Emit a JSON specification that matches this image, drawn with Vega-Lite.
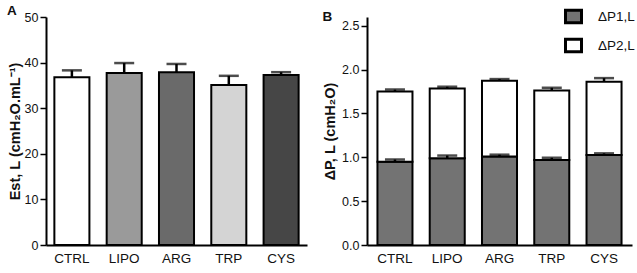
{
  "$schema": "https://vega.github.io/schema/vega-lite/v6.json",
  "background": "white",
  "padding": {"left": 7, "top": 3, "right": 2, "bottom": 2},
  "spacing": 15,
  "resolve": {"scale": {"fill": "independent"}, "legend": {"fill": "independent"}},
  "config": {
    "font": "Liberation Sans",
    "view": {"stroke": null},
    "axis": {
      "domainColor": "black", "domainWidth": 2,
      "tickColor": "black", "tickWidth": 1.5, "tickSize": 6,
      "labelColor": "#111", "labelFont": "Liberation Sans", "labelFontSize": 12.5,
      "titleFont": "Liberation Sans", "titleFontWeight": "bold", "titleFontSize": 14.5, "titleColor": "#111",
      "grid": false
    },
    "title": {"anchor": "start", "frame": "bounds", "fontSize": 13.5, "fontWeight": "bold", "font": "Liberation Sans", "offset": -6, "color": "#111"}
  },
  "hconcat": [
    {
      "width": 261, "height": 228,
      "title": {"text": "A"},
      "data": {"values": [
        {"group": "CTRL", "mean": 36.8, "upper": 38.3},
        {"group": "LIPO", "mean": 37.7, "upper": 39.9},
        {"group": "ARG", "mean": 37.9, "upper": 39.7},
        {"group": "TRP", "mean": 35.1, "upper": 37.1},
        {"group": "CYS", "mean": 37.3, "upper": 37.9}
      ]},
      "encoding": {
        "x": {"field": "group", "type": "nominal", "sort": null,
          "scale": {"paddingInner": 0.33, "paddingOuter": 0.16},
          "axis": {"title": null, "ticks": false, "labelAngle": 0, "labelFontSize": 13.5, "labelPadding": 6}}
      },
      "layer": [
        {"mark": {"type": "bar", "stroke": "black", "strokeWidth": 2},
         "encoding": {
           "y": {"field": "mean", "type": "quantitative", "scale": {"domain": [0, 50]},
             "axis": {"title": "Est, L (cmH₂O.mL⁻¹)", "values": [0, 10, 20, 30, 40, 50], "labelPadding": 2, "titlePadding": 2}},
           "fill": {"field": "group", "type": "nominal", "sort": null,
             "scale": {"domain": ["CTRL", "LIPO", "ARG", "TRP", "CYS"], "range": ["#ffffff", "#9a9a9a", "#6a6a6a", "#d4d4d4", "#464646"]},
             "legend": null}
         }},
        {"mark": {"type": "rule", "color": "black", "strokeWidth": 2.5},
         "encoding": {"y": {"field": "mean", "type": "quantitative"}, "y2": {"field": "upper"}}},
        {"mark": {"type": "tick", "color": "black", "thickness": 2.5, "size": 20},
         "encoding": {"y": {"field": "upper", "type": "quantitative"}}}
      ]
    },
    {
      "width": 265, "height": 228,
      "title": {"text": "B", "offset": -16},
      "data": {"values": [
        {"group": "CTRL", "series": "ΔP1,L", "start": 0, "end": 0.95, "cap": 0.975},
        {"group": "CTRL", "series": "ΔP2,L", "start": 0.95, "end": 1.75, "cap": 1.772},
        {"group": "LIPO", "series": "ΔP1,L", "start": 0, "end": 0.99, "cap": 1.02},
        {"group": "LIPO", "series": "ΔP2,L", "start": 0.99, "end": 1.785, "cap": 1.805},
        {"group": "ARG", "series": "ΔP1,L", "start": 0, "end": 1.01, "cap": 1.03},
        {"group": "ARG", "series": "ΔP2,L", "start": 1.01, "end": 1.872, "cap": 1.892},
        {"group": "TRP", "series": "ΔP1,L", "start": 0, "end": 0.97, "cap": 0.995},
        {"group": "TRP", "series": "ΔP2,L", "start": 0.97, "end": 1.762, "cap": 1.793},
        {"group": "CYS", "series": "ΔP1,L", "start": 0, "end": 1.025, "cap": 1.045},
        {"group": "CYS", "series": "ΔP2,L", "start": 1.025, "end": 1.862, "cap": 1.903}
      ]},
      "encoding": {
        "x": {"field": "group", "type": "nominal", "sort": null,
          "scale": {"paddingInner": 0.33, "paddingOuter": 0.2},
          "axis": {"title": null, "ticks": false, "labelAngle": 0, "labelFontSize": 13.5, "labelPadding": 6}}
      },
      "layer": [
        {"mark": {"type": "bar", "stroke": "black", "strokeWidth": 2},
         "encoding": {
           "y": {"field": "end", "type": "quantitative", "scale": {"domain": [0, 2.5]},
             "axis": {"title": "ΔP, L (cmH₂O)", "values": [0, 0.5, 1, 1.5, 2, 2.5], "format": ".1f", "labelPadding": 2, "titlePadding": 4}},
           "y2": {"field": "start"},
           "fill": {"field": "series", "type": "nominal",
             "scale": {"domain": ["ΔP1,L", "ΔP2,L"], "range": ["#737373", "#ffffff"]},
             "legend": {"title": null, "orient": "none", "legendX": 197, "legendY": -10,
               "symbolType": "M-1,-0.78H1V0.78H-1Z", "symbolSize": 256,
               "symbolStrokeColor": "black", "symbolStrokeWidth": 3, "symbolOpacity": 1,
               "labelFontSize": 13.5, "labelColor": "#111", "labelOffset": 15, "rowPadding": 4}}
         }},
        {"mark": {"type": "rule", "color": "black", "strokeWidth": 2.5},
         "encoding": {"y": {"field": "end", "type": "quantitative"}, "y2": {"field": "cap"}}},
        {"mark": {"type": "tick", "color": "black", "thickness": 2.5, "size": 20},
         "encoding": {"y": {"field": "cap", "type": "quantitative"}}}
      ]
    }
  ]
}
